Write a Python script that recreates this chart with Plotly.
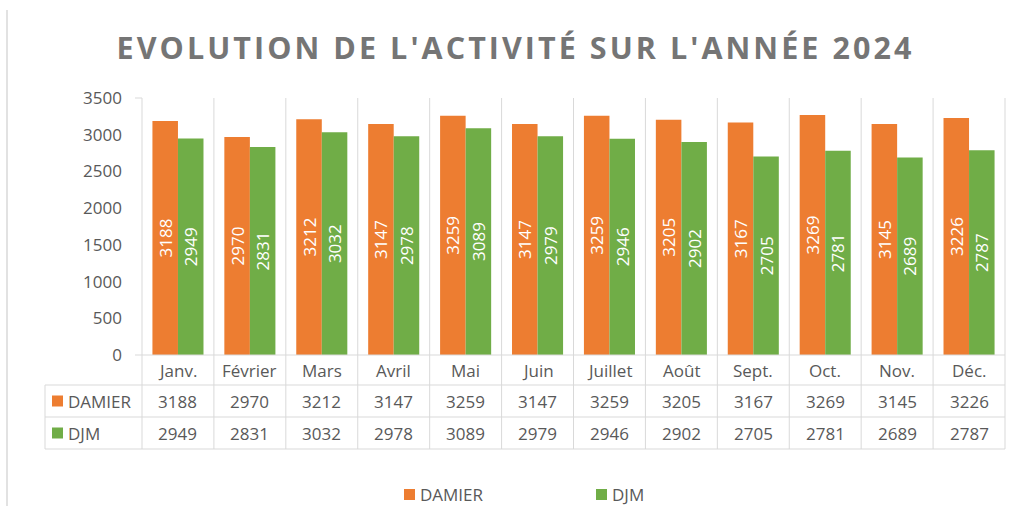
import plotly.graph_objects as go

months = ["Janv.", "Février", "Mars", "Avril", "Mai", "Juin", "Juillet", "Août", "Sept.", "Oct.", "Nov.", "Déc."]
damier = [3188, 2970, 3212, 3147, 3259, 3147, 3259, 3205, 3167, 3269, 3145, 3226]
djm = [2949, 2831, 3032, 2978, 3089, 2979, 2946, 2902, 2705, 2781, 2689, 2787]
series_names = ["DAMIER", "DJM"]
series_colors = ["#ED7D31", "#70AD47"]
y_ticks = [0, 500, 1000, 1500, 2000, 2500, 3000, 3500]
title_text = "EVOLUTION DE L'ACTIVITÉ SUR L'ANNÉE 2024"

W, H = 1018, 506
L, R, T, B = 142, 13, 98, 151
PW = W - L - R
PH = H - T - B
FONT = "Open Sans"
TXT = "#595959"
GRID = "#D9D9D9"


def px_x(X):
    return (X - L) / PW


def px_y(Y):
    return (H - B - Y) / PH


fig = go.Figure()
for name, vals, col in zip(series_names, [damier, djm], series_colors):
    fig.add_trace(go.Bar(
        x=months, y=vals, name=name, marker=dict(color=col, line=dict(width=0)),
        text=[str(v) for v in vals], textposition="inside", insidetextanchor="middle",
        textangle=-90, constraintext="none",
        textfont=dict(family=FONT, size=17, color="white"), showlegend=False,
    ))

shapes = []
annotations = []
n = len(months)
for i in range(n + 1):
    xp = i / n
    shapes.append(dict(type="line", xref="paper", yref="paper", x0=xp, x1=xp,
                       y0=1, y1=px_y(449), line=dict(color=GRID, width=1)))
shapes.append(dict(type="line", xref="paper", yref="paper", x0=px_x(45), x1=px_x(45),
                   y0=px_y(385), y1=px_y(449), line=dict(color=GRID, width=1)))
for Y in [385, 417, 449]:
    shapes.append(dict(type="line", xref="paper", yref="paper", x0=px_x(45), x1=1,
                       y0=px_y(Y), y1=px_y(Y), line=dict(color=GRID, width=1)))
shapes.append(dict(type="line", xref="paper", yref="paper", x0=px_x(135), x1=1,
                   y0=0, y1=0, line=dict(color=GRID, width=1)))
shapes.append(dict(type="line", xref="paper", yref="paper", x0=px_x(135), x1=0,
                   y0=1, y1=1, line=dict(color=GRID, width=1)))
shapes.append(dict(type="line", xref="paper", yref="paper", x0=px_x(7), x1=px_x(7),
                   y0=px_y(10), y1=px_y(506), line=dict(color=GRID, width=1.5)))

for m in months:
    annotations.append(dict(x=m, xref="x", y=px_y(370), yref="paper", text=m, showarrow=False,
                            xanchor="center", yanchor="middle",
                            font=dict(family=FONT, size=17, color=TXT)))
row_centers = [401, 433]
for name, vals, col, Yc in zip(series_names, [damier, djm], series_colors, row_centers):
    for m, v in zip(months, vals):
        annotations.append(dict(x=m, xref="x", y=px_y(Yc), yref="paper", text=str(v), showarrow=False,
                                xanchor="center", yanchor="middle",
                                font=dict(family=FONT, size=17, color=TXT)))
    shapes.append(dict(type="rect", xref="paper", yref="paper", x0=px_x(52), x1=px_x(63),
                       y0=px_y(Yc + 5.5), y1=px_y(Yc - 5.5), fillcolor=col, line=dict(width=0)))
    annotations.append(dict(x=px_x(66), xref="paper", y=px_y(Yc), yref="paper", text=name, showarrow=False,
                            xanchor="left", yanchor="middle",
                            font=dict(family=FONT, size=17, color=TXT)))

legend_x = [404, 596]
for name, col, X in zip(series_names, series_colors, legend_x):
    shapes.append(dict(type="rect", xref="paper", yref="paper", x0=px_x(X), x1=px_x(X + 11),
                       y0=px_y(500), y1=px_y(489), fillcolor=col, line=dict(width=0)))
    annotations.append(dict(x=px_x(X + 14), xref="paper", y=px_y(494.5), yref="paper", text=name,
                            showarrow=False, xanchor="left", yanchor="middle",
                            font=dict(family=FONT, size=17, color=TXT)))

spaced_title = "\u200a".join(list(title_text))

fig.update_layout(
    width=W, height=H,
    margin=dict(l=L, r=R, t=T, b=B, pad=0),
    paper_bgcolor="white", plot_bgcolor="white",
    barmode="group", bargap=0.29, bargroupgap=0,
    title=dict(text=spaced_title, x=514 / W, xanchor="center", xref="container",
               y=1 - 48 / H, yanchor="middle", yref="container",
               font=dict(family=FONT, size=30.5, color="#757575", weight="bold")),
    xaxis=dict(showticklabels=False, showgrid=False, zeroline=False, showline=False,
               ticks="", range=[-0.5, n - 0.5]),
    yaxis=dict(range=[0, 3500], tickvals=y_ticks, showgrid=False, zeroline=False, showline=False,
               ticks="", ticklabelstandoff=19,
               tickfont=dict(family=FONT, size=17, color=TXT)),
    shapes=shapes, annotations=annotations,
    font=dict(family=FONT, color=TXT),
)

fig.write_html("out.html", config={"displayModeBar": False},
               post_script="document.body.style.margin='0';document.body.style.overflow='hidden';")
